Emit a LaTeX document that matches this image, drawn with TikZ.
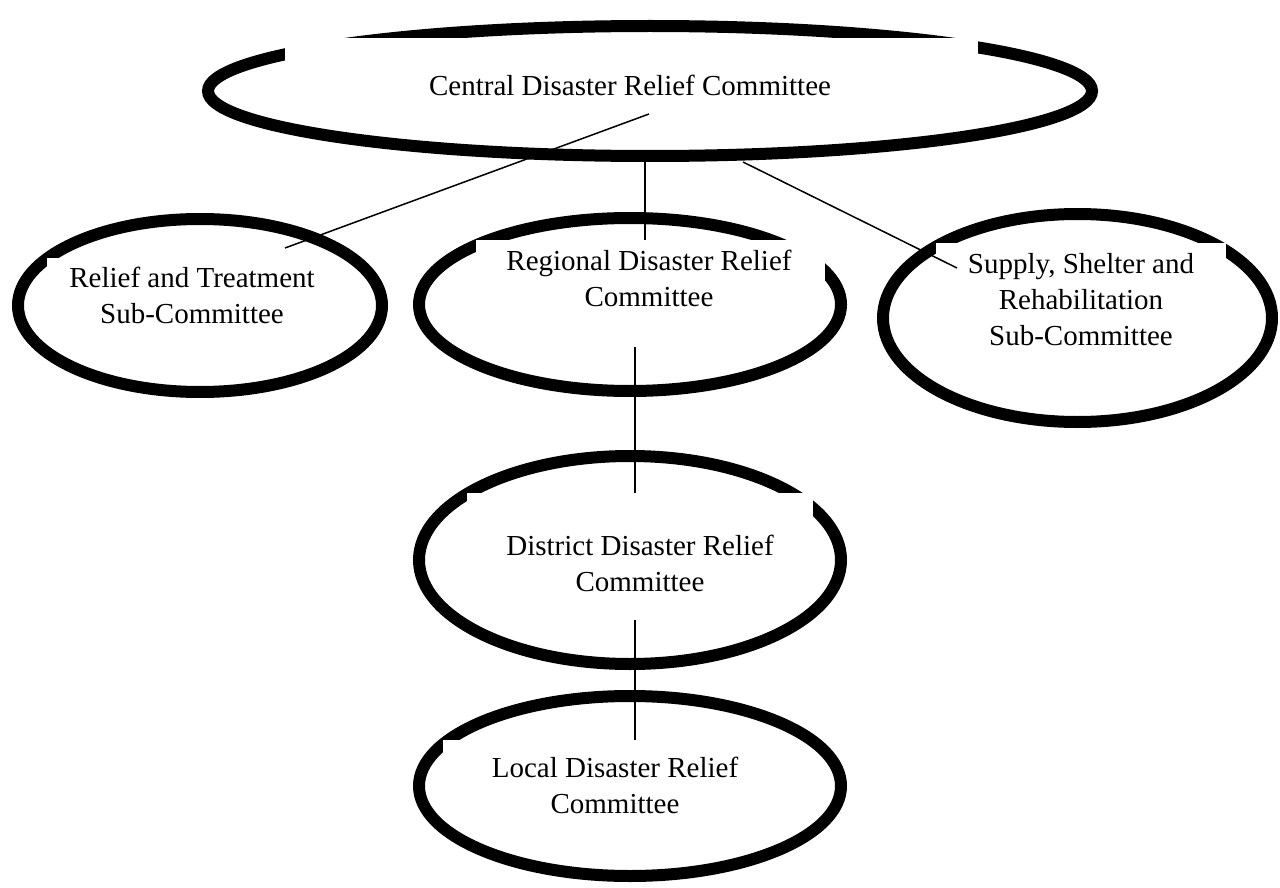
\documentclass[tikz,border=0pt]{standalone}
\usepackage{fontspec}
\setmainfont{Liberation Serif}
\usetikzlibrary{shapes.geometric}
\tikzstyle{committee} = [
    ellipse,
    draw=black,
    line width=6pt,
    inner sep=0pt
]
\tikzstyle{textbox} = [
    rectangle,
    fill=white,
    draw=none,
    anchor=north,
    inner sep=0pt
]
\tikzstyle{boxtext} = [
    align=center,
    anchor=base,
    inner sep=0pt,
    font=\fontsize{14.5pt}{18pt}\selectfont
]
\tikzstyle{link} = [line width=0.75pt]

\begin{document}
\begin{tikzpicture}[x=0.5pt, y=-0.5pt]
\useasboundingbox (0,0) rectangle (1280,888);

\node (central) [committee, minimum width=442pt, minimum height=65pt] at (650,91) {};

\node (relief) [committee, minimum width=182pt, minimum height=86.5pt] at (200,305.5) {};

\node (regional) [committee, minimum width=211pt, minimum height=86.5pt] at (630,304.5) {};

\node (supply) [committee, minimum width=194.5pt, minimum height=104pt] at (1077.5,318) {};

\node (district) [committee, minimum width=211pt, minimum height=104pt] at (630,560) {};

\node (local) [committee, minimum width=211pt, minimum height=90pt] at (630,786) {};

\node (cenbox) [textbox, minimum width=346.5pt, minimum height=40pt] at (631.5,38) {};
\node (relbox) [textbox, minimum width=145pt, minimum height=38.5pt] at (192,258) {};
\node (regbox) [textbox, minimum width=174.5pt, minimum height=39pt] at (650.5,240) {};
\node (supbox) [textbox, minimum width=145pt, minimum height=56pt] at (1081,243) {};
\node (distbox) [textbox, minimum width=173pt, minimum height=53.5pt] at (640,493) {};
\node (locbox) [textbox, minimum width=172pt, minimum height=38pt] at (615,740) {};

\node (centext) [boxtext] at (630,96) {Central Disaster Relief Committee};
\node (reltext) [boxtext] at (192,323) {Relief and Treatment\\Sub-Committee};
\node (regtext) [boxtext] at (649,306) {Regional Disaster Relief\\Committee};
\node (suptext) [boxtext] at (1081,345) {Supply, Shelter and\\Rehabilitation\\Sub-Committee};
\node (disttext) [boxtext] at (640,591) {District Disaster Relief\\Committee};
\node (loctext) [boxtext] at (615,813) {Local Disaster Relief\\Committee};

\coordinate (cenhub) at (649,114);
\coordinate (relend) at (285,248);
\coordinate (cenfoot) at (645,160);
\coordinate (cenrim) at (743,162);
\coordinate (supend) at (957,268);
\coordinate (regfoot) at (635,347);
\coordinate (distfoot) at (635,620);

\draw [link] (cenhub) -- (relend);
\draw [link] (cenfoot) -- (cenfoot |- regbox.north);
\draw [link] (cenrim) -- (supend);
\draw [link] (regfoot) -- (regfoot |- distbox.north);
\draw [link] (distfoot) -- (distfoot |- locbox.north);

\end{tikzpicture}
\end{document}
